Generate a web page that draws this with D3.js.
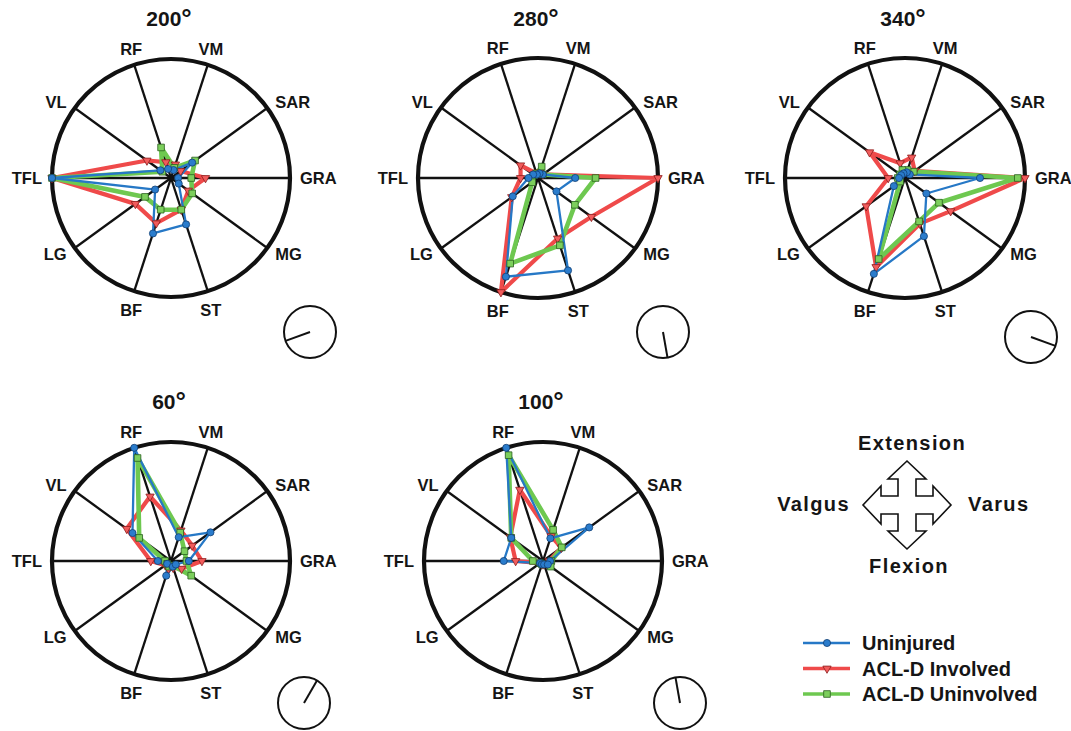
<!DOCTYPE html>
<html>
<head>
<meta charset="utf-8">
<script src="https://cdn.jsdelivr.net/npm/d3@7"></script>
<style>
  body { margin: 0; background: #fff; }
  svg { display: block; }
  text { font-family: "Liberation Sans", Arial, Helvetica, sans-serif; font-weight: bold; fill: #151515; }
</style>
</head>
<body>
<svg id="chart" width="1071" height="731"></svg>
<script>
// Muscles, counter-clockwise starting from the 3 o'clock spoke
const muscles = ["GRA", "SAR", "VM", "RF", "VL", "TFL", "LG", "BF", "ST", "MG"];

// Knee load direction (degrees) for each panel
const kneeAngles = [200, 280, 340, 60, 100];

// Normalised activation per muscle (same order as `muscles`), one row per panel
const uninjured = [
  [0.06, 0.22, 0.07, 0.08, 0.11, 1.00, 0.165, 0.49, 0.41, 0.08],
  [0.31, 0.05, 0.04, 0.03, 0.05, 0.08, 0.26, 0.865, 0.81, 0.19],
  [0.625, 0.05, 0.05, 0.04, 0.04, 0.05, 0.115, 0.84, 0.51, 0.22],
  [0.15, 0.41, 0.21, 1.00, 0.40, 0.11, 0.04, 0.13, 0.05, 0.05],
  [0.06, 0.48, 0.20, 1.00, 0.33, 0.33, 0.03, 0.03, 0.03, 0.05]
];
const aclInvolved = [
  [0.29, 0.10, 0.12, 0.14, 0.25, 1.00, 0.37, 0.40, 0.28, 0.18],
  [1.00, 0.05, 0.05, 0.04, 0.18, 0.145, 0.27, 1.00, 0.53, 0.55],
  [1.00, 0.10, 0.18, 0.13, 0.365, 0.14, 0.40, 0.78, 0.40, 0.47],
  [0.26, 0.22, 0.27, 0.57, 0.46, 0.17, 0.06, 0.07, 0.06, 0.11],
  [0.05, 0.19, 0.22, 0.63, 0.34, 0.23, 0.03, 0.03, 0.03, 0.04]
];
const aclUninvolved = [
  [0.17, 0.25, 0.09, 0.27, 0.09, 1.00, 0.27, 0.28, 0.28, 0.22],
  [0.48, 0.05, 0.10, 0.04, 0.04, 0.05, 0.06, 0.75, 0.59, 0.38],
  [0.94, 0.09, 0.07, 0.07, 0.05, 0.06, 0.05, 0.71, 0.38, 0.35],
  [0.13, 0.14, 0.25, 0.91, 0.33, 0.05, 0.04, 0.05, 0.04, 0.21],
  [0.07, 0.195, 0.275, 0.935, 0.33, 0.085, 0.03, 0.03, 0.03, 0.08]
];

const seriesNames = ["Uninjured", "ACL-D Involved", "ACL-D Uninvolved"];
const directionLabels = ["Extension", "Varus", "Flexion", "Valgus"];

// ---- layout and styling ----
const panelLayout = [
  { cx: 171, cy: 178, r: 119, dial: [310, 332] },
  { cx: 538, cy: 178, r: 120, dial: [663, 332] },
  { cx: 905, cy: 178, r: 120, dial: [1031, 337] },
  { cx: 171, cy: 561, r: 119, dial: [304, 703] },
  { cx: 543, cy: 561, r: 119, dial: [680, 703] }
];

const seriesStyle = [
  { stroke: "#2678c6", width: 2.3, fill: "#2a7ccc", edge: "#123f73", symbol: "circle" },
  { stroke: "#ef4a4a", width: 4.2, fill: "#f15c5c", edge: "#8a1d1d", symbol: "triangle" },
  { stroke: "#6ec850", width: 4.6, fill: "#7ccf5c", edge: "#2b5f20", symbol: "square" }
];
const drawOrder = [1, 2, 0];
const seriesData = [uninjured, aclInvolved, aclUninvolved];

const svg = d3.select("#chart");
const step = 2 * Math.PI / muscles.length;
const theta = i => i * step;                 // counter-clockwise from east

function markerPath(kind) {
  if (kind === "circle") return d3.symbol(d3.symbolCircle, 40)();
  if (kind === "square") return d3.symbol(d3.symbolSquare, 44)();
  return d3.symbol(d3.symbolTriangle, 30)();
}

kneeAngles.forEach((angle, p) => {
  const L = panelLayout[p];
  const g = svg.append("g").attr("transform", `translate(${L.cx},${L.cy})`);
  const rScale = d3.scaleLinear().domain([0, 1]).range([0, L.r]);

  // title
  const title = g.append("text")
    .attr("x", -2).attr("y", -152)
    .attr("text-anchor", "middle")
    .style("font-size", "21px");
  title.append("tspan").text(angle);
  title.append("tspan").text("°").style("font-size", "26px").attr("dy", 1);

  // spokes
  g.selectAll("line.spoke").data(muscles).join("line")
    .attr("class", "spoke")
    .attr("x1", 0).attr("y1", 0)
    .attr("x2", (d, i) => rScale(1) * Math.cos(theta(i)))
    .attr("y2", (d, i) => -rScale(1) * Math.sin(theta(i)))
    .attr("stroke", "#111").attr("stroke-width", 2.3);

  // outer ring
  g.append("circle").attr("r", rScale(1))
    .attr("fill", "none").attr("stroke", "#111").attr("stroke-width", 4.2);

  // muscle labels
  g.selectAll("text.axis").data(muscles).join("text")
    .attr("class", "axis")
    .style("font-size", "16.5px")
    .each(function (d, i) {
      const c = Math.cos(theta(i)), s = Math.sin(theta(i));
      const dist = rScale(1) + 10;
      const anchor = c > 0.5 ? "start" : c < -0.5 ? "end" : "middle";
      const dy = s > 0.7 ? 0 : s < -0.7 ? 15 : 6;
      d3.select(this)
        .attr("x", c * dist)
        .attr("y", -s * dist + dy)
        .attr("text-anchor", anchor)
        .text(d);
    });

  // series polygons
  const radial = d3.lineRadial()
    .angle((d, i) => Math.PI / 2 - theta(i))
    .radius(d => rScale(d))
    .curve(d3.curveLinearClosed);

  drawOrder.forEach(s => {
    const st = seriesStyle[s];
    const vals = seriesData[s][p];
    g.append("path")
      .attr("d", radial(vals))
      .attr("fill", "none")
      .attr("stroke", st.stroke)
      .attr("stroke-width", st.width)
      .attr("stroke-linejoin", "round");
  });
  drawOrder.forEach(s => {
    const st = seriesStyle[s];
    const vals = seriesData[s][p];
    g.selectAll(null).data(vals).join("path")
      .attr("d", markerPath(st.symbol))
      .attr("transform", (d, i) => {
        const x = rScale(d) * Math.cos(theta(i));
        const y = -rScale(d) * Math.sin(theta(i));
        return `translate(${x},${y})` + (st.symbol === "triangle" ? " rotate(180)" : "");
      })
      .attr("fill", st.fill)
      .attr("stroke", st.edge)
      .attr("stroke-width", 0.8);
  });

  // knee-angle dial
  const dr = 26;
  const rad = angle * Math.PI / 180;
  const dial = svg.append("g").attr("transform", `translate(${L.dial[0]},${L.dial[1]})`);
  dial.append("circle").attr("r", dr)
    .attr("fill", "none").attr("stroke", "#111").attr("stroke-width", 2);
  dial.append("line")
    .attr("x1", 0).attr("y1", 0)
    .attr("x2", dr * Math.cos(rad)).attr("y2", -dr * Math.sin(rad))
    .attr("stroke", "#111").attr("stroke-width", 2);
});

// ---- direction key ----
const key = svg.append("g").attr("transform", "translate(907,505)");
const a = 44, hw = 19, sw = 9, hl = 18;   // arm length, head half-width, shaft half-width, head length
const b = a - hl;
const crossPts = [
  [0, -a], [hw, -b], [sw, -b], [sw, -sw], [b, -sw], [b, -hw], [a, 0], [b, hw], [b, sw], [sw, sw],
  [sw, b], [hw, b], [0, a], [-hw, b], [-sw, b], [-sw, sw], [-b, sw], [-b, hw], [-a, 0], [-b, -hw],
  [-b, -sw], [-sw, -sw], [-sw, -b], [-hw, -b]
];
key.append("path")
  .attr("d", d3.line()(crossPts) + "Z")
  .attr("fill", "#fff").attr("stroke", "#111").attr("stroke-width", 1.6)
  .attr("stroke-linejoin", "miter");

const keyText = [
  { x: 5, y: -55, anchor: "middle" },
  { x: 61, y: 6, anchor: "start" },
  { x: 2, y: 68, anchor: "middle" },
  { x: -57, y: 6, anchor: "end" }
];
directionLabels.forEach((t, i) => {
  key.append("text")
    .attr("x", keyText[i].x).attr("y", keyText[i].y)
    .attr("text-anchor", keyText[i].anchor)
    .style("font-size", "20px").style("letter-spacing", "1.4px")
    .text(t);
});

// ---- legend ----
const legend = svg.append("g").attr("transform", "translate(803,643)");
seriesNames.forEach((name, s) => {
  const st = seriesStyle[s];
  const row = legend.append("g").attr("transform", `translate(0,${s * 25.5})`);
  row.append("line").attr("x1", 0).attr("x2", 47).attr("y1", 0).attr("y2", 0)
    .attr("stroke", st.stroke).attr("stroke-width", s === 0 ? 2.6 : 3.6);
  row.append("path")
    .attr("d", markerPath(st.symbol))
    .attr("transform", "translate(24,0)" + (st.symbol === "triangle" ? " rotate(180)" : ""))
    .attr("fill", st.fill).attr("stroke", st.edge).attr("stroke-width", 0.8);
  row.append("text").attr("x", 59).attr("y", 7)
    .style("font-size", "20px")
    .text(name);
});
</script>
</body>
</html>
